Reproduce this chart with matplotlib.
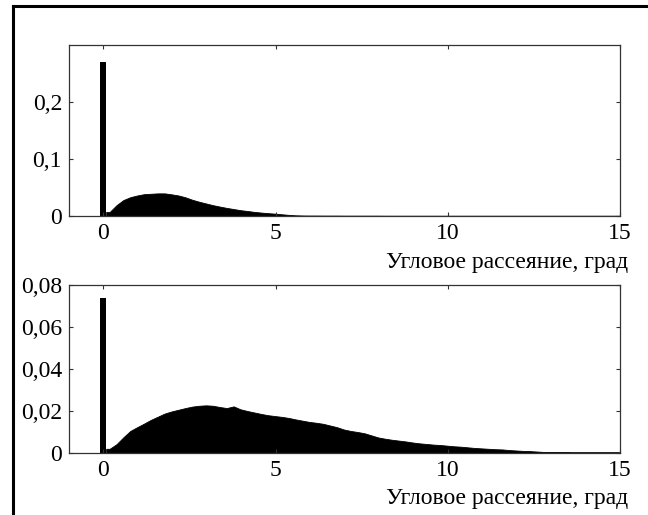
import numpy as np
import matplotlib
matplotlib.use('Agg')
import matplotlib.pyplot as plt
from matplotlib.lines import Line2D

plt.rcParams['font.family'] = ['Liberation Serif', 'DejaVu Serif']
plt.rcParams['font.size'] = 17

# angular scattering histograms, bin width 0.2 deg starting right after the zero peak
bin_start = 0.08
bin_width = 0.2

peak_top = 0.27
hist_top = [
    0.0070, 0.0190, 0.0280, 0.0330, 0.0360, 0.0383, 0.0390, 0.0397, 0.0397, 0.0380,
    0.0360, 0.0328, 0.0285, 0.0250, 0.0220, 0.0190, 0.0165, 0.0142, 0.0122, 0.0102,
    0.0088, 0.0072, 0.0060, 0.0050, 0.0041, 0.0030, 0.0020, 0.0012, 0.0009, 0.0008,
    0.0008, 0.0007, 0.0007, 0.0007, 0.0006, 0.0006, 0.0006, 0.0006, 0.0006, 0.0006,
    0.0005, 0.0005, 0.0005, 0.0005, 0.0005, 0.0005, 0.0005, 0.0005, 0.0005, 0.0005,
    0.0005, 0.0005, 0.0005, 0.0005, 0.0005, 0.0005, 0.0005, 0.0005, 0.0005, 0.0005,
    0.0005, 0.0005, 0.0005, 0.0005, 0.0005, 0.0005, 0.0005, 0.0005, 0.0005, 0.0005,
    0.0005, 0.0005, 0.0005, 0.0005, 0.0005,
]

peak_bottom = 0.074
hist_bottom = [
    0.0020, 0.0042, 0.0075, 0.0105, 0.0123, 0.0140, 0.0158, 0.0173, 0.0188, 0.0198,
    0.0206, 0.0214, 0.0221, 0.0225, 0.0227, 0.0225, 0.0219, 0.0214, 0.0222, 0.0208,
    0.0200, 0.0193, 0.0186, 0.0180, 0.0176, 0.0172, 0.0167, 0.0160, 0.0154, 0.0148,
    0.0144, 0.0139, 0.0131, 0.0123, 0.0112, 0.0105, 0.0100, 0.0094, 0.0084, 0.0074,
    0.0068, 0.0063, 0.0059, 0.0055, 0.0050, 0.0046, 0.0043, 0.0040, 0.0038, 0.0035,
    0.0032, 0.0030, 0.0027, 0.0024, 0.0022, 0.0020, 0.0018, 0.0017, 0.0014, 0.0012,
    0.0010, 0.0009, 0.0007, 0.0005, 0.0005, 0.0005, 0.0005, 0.0004, 0.0004, 0.0004,
    0.0004, 0.0004, 0.0004, 0.0004, 0.0004,
]

xticks = [0, 5, 10, 15]
yticks_top = [0, 0.1, 0.2]
ylabels_top = ['0', '0,1', '0,2']
yticks_bottom = [0, 0.02, 0.04, 0.06, 0.08]
ylabels_bottom = ['0', '0,02', '0,04', '0,06', '0,08']
xlabel = 'Угловое рассеяние, град'

fig = plt.figure(figsize=(6.48, 5.15), dpi=100)

# frame lines on the top and left edge
fig.add_artist(Line2D([13 / 648, 1], [1 - 6 / 515, 1 - 6 / 515], color='black', lw=2.2,
                      transform=fig.transFigure))
fig.add_artist(Line2D([13 / 648, 13 / 648], [0, 1 - 6 / 515], color='black', lw=2.2,
                      transform=fig.transFigure))

ax1 = fig.add_axes([0.1065, 0.5806, 0.8503, 0.332])
ax2 = fig.add_axes([0.1065, 0.1204, 0.8503, 0.3262])


def draw_panel(ax, peak, hist, ylim, yticks, ylabels):
    # filled outline through the bin centres, closed down to zero at the first edge
    centres = bin_start + bin_width * (np.arange(len(hist)) + 0.5)
    xs = np.concatenate([[bin_start], centres])
    ys = np.concatenate([[hist[0]], hist])
    ax.fill_between(xs, 0, ys, color='black', linewidth=0.6, edgecolor='black')
    ax.bar(-0.01, peak, width=0.17, color='black', linewidth=0)
    ax.set_xlim(-1, 15)
    ax.set_ylim(*ylim)
    ax.set_xticks(xticks)
    ax.set_xticklabels([str(t) for t in xticks])
    ax.set_yticks(yticks)
    ax.set_yticklabels(ylabels)
    ax.tick_params(direction='in', length=3, width=0.8, top=True, right=True,
                   color='#333333', labelsize=17)
    ax.tick_params(axis='x', pad=5)
    ax.tick_params(axis='y', pad=5)
    for sp in ax.spines.values():
        sp.set_linewidth(0.9)
        sp.set_color('#333333')
    ax.text(1.015, -0.27, xlabel, transform=ax.transAxes, ha='right', va='center',
            fontsize=17)


draw_panel(ax1, peak_top, hist_top, (0, 0.3), yticks_top, ylabels_top)
draw_panel(ax2, peak_bottom, hist_bottom, (0, 0.08), yticks_bottom, ylabels_bottom)

fig.savefig('out.png', dpi=100)
